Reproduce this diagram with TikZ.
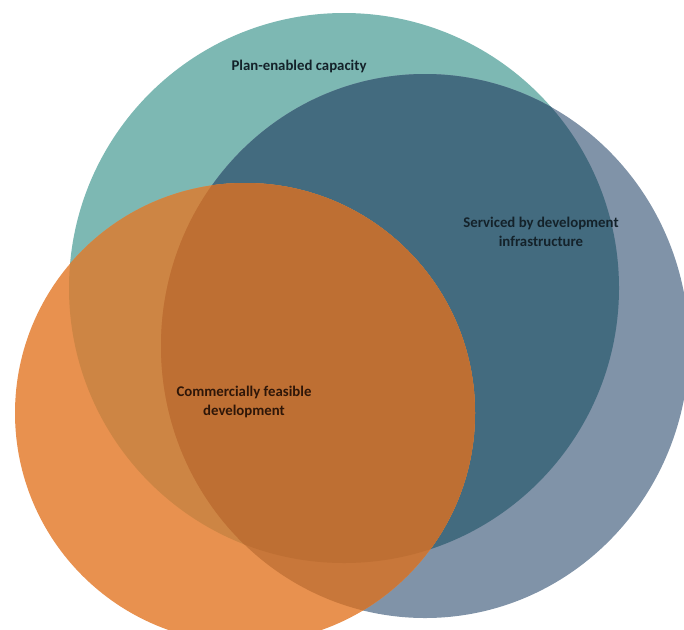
\documentclass[tikz,border=0pt]{standalone}
\usepackage{fontspec}
\setmainfont{Carlito}
\definecolor{tealonly}{HTML}{7DB8B3}
\definecolor{blueonly}{HTML}{8093A8}
\definecolor{tealblue}{HTML}{436B7F}
\definecolor{orangeonly}{HTML}{E8914F}
\definecolor{orangeteal}{HTML}{CD8544}
\definecolor{orangeblue}{HTML}{C8773A}
\definecolor{orangeall}{HTML}{BE6F33}
\definecolor{labeltxt}{HTML}{14222A}
\definecolor{labeltxtor}{HTML}{2E1608}
\begin{document}
\begin{tikzpicture}[x=1pt,y=-1pt,
  lbl/.style={font=\bfseries\fontsize{14.8}{19}\selectfont, align=center, inner sep=0pt, text=labeltxt}]
\useasboundingbox (0,0) rectangle (684,629);
\def\tealpath{(344,288) circle (275)}
\def\bluepath{(425,346) ellipse (264 and 272)}
\def\orangepath{(245,413) circle (230)}
\fill[tealonly] \tealpath;
\fill[blueonly] \bluepath;
\begin{scope}\clip \tealpath; \fill[tealblue] \bluepath;\end{scope}
\fill[orangeonly] \orangepath;
\begin{scope}\clip \orangepath; \fill[orangeteal] \tealpath;\end{scope}
\begin{scope}\clip \orangepath; \fill[orangeblue] \bluepath;\end{scope}
\begin{scope}\clip \orangepath; \clip \tealpath; \fill[orangeall] \bluepath;\end{scope}
\node[lbl] (plan) at (299,66) {Plan-enabled capacity};
\node[lbl] (serv) at (541,232) {Serviced by development\\infrastructure};
\node[lbl, text=labeltxtor] (comm) at (244,402) {Commercially feasible\\development};
\end{tikzpicture}
\end{document}
